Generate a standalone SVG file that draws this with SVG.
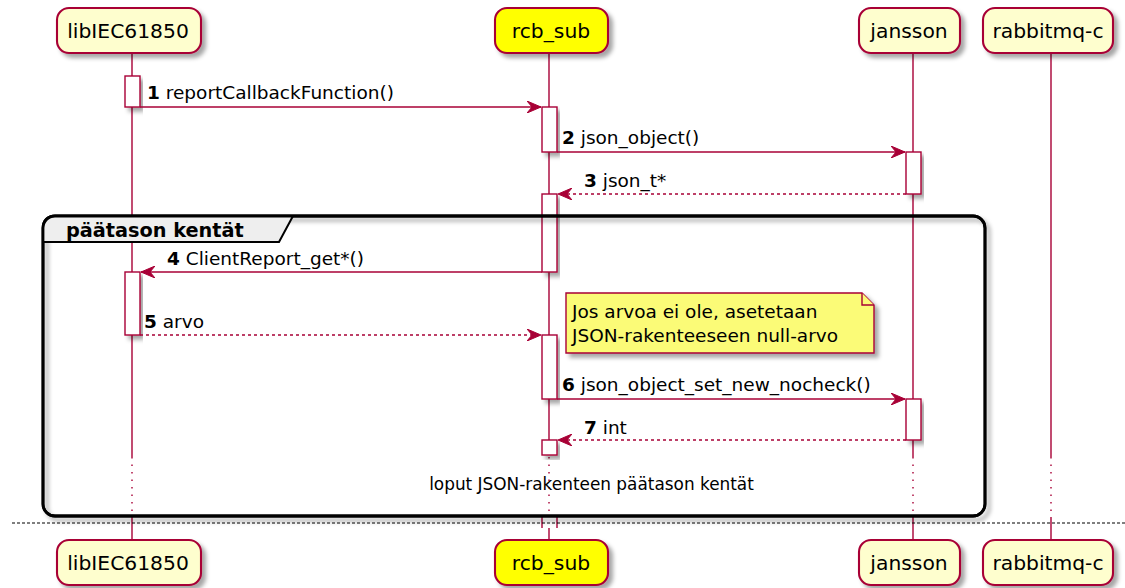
<svg xmlns="http://www.w3.org/2000/svg" width="1125" height="588" viewBox="0 0 1125 588">
<style>
text{font-family:"DejaVu Sans","Liberation Sans",sans-serif;fill:#000}
.pbox{fill:#FEFECE;stroke:#A80036;stroke-width:2.1}
.pname{font-size:20.3px}
.life{stroke:#A80036;stroke-width:1.4;fill:none}
.lifed{stroke:#A80036;stroke-width:1.4;stroke-dasharray:1.5 6;fill:none}
.act{fill:#FFFFFF;stroke:#A80036;stroke-width:1.4}
.msg{stroke:#A80036;stroke-width:1.4;fill:none}
.ret{stroke:#A80036;stroke-width:1.4;stroke-dasharray:3 3;fill:none}
.lbl{font-size:18.5px}
.num{font-weight:bold}
</style>
<defs>
<filter id="sh" x="-10%" y="-10%" width="130%" height="140%">
<feDropShadow dx="4" dy="4" stdDeviation="2.2" flood-color="#000" flood-opacity="0.35"/>
</filter>
<marker id="ah" markerUnits="userSpaceOnUse" markerWidth="15" markerHeight="12" refX="14" refY="6" orient="auto" viewBox="0 0 15 12">
<path d="M0,0 L14,6 L0,12 L5,6 Z" fill="#A80036" stroke="#A80036" stroke-width="1"/>
</marker>
</defs>
<rect width="1125" height="588" fill="#FFFFFF"/>

<g id="lifelines">
<path class="life" d="M132,53 V457 M132,517 V540"/>
<path class="lifed" d="M132,457 V517"/>
<path class="life" d="M549,53 V455 M549,517 V540"/>
<path class="lifed" d="M549,457 V517"/>
<path class="life" d="M913,53 V457 M913,517 V540"/>
<path class="lifed" d="M913,457 V517"/>
<path class="life" d="M1051,53 V457 M1051,517 V540"/>
<path class="lifed" d="M1051,457 V517"/>
</g>

<g id="activations">
<rect class="act" x="125" y="76" width="15" height="31" filter="url(#sh)"/>
<rect class="act" x="542" y="107" width="15" height="45" filter="url(#sh)"/>
<rect class="act" x="906" y="152" width="15" height="42" filter="url(#sh)"/>
<rect class="act" x="542" y="194" width="15" height="78" filter="url(#sh)"/>
<rect class="act" x="125" y="272" width="15" height="63" filter="url(#sh)"/>
<rect class="act" x="542" y="335" width="15" height="64" filter="url(#sh)"/>
<rect class="act" x="906" y="399" width="15" height="41" filter="url(#sh)"/>
<rect class="act" x="542" y="440" width="15" height="15" filter="url(#sh)"/>
<path class="act" d="M542,516 V528 M557,516 V528"/>
<rect x="543" y="517" width="13" height="11" fill="#FFFFFF"/>
</g>

<g id="group-paatason">
<rect x="43" y="216" width="942" height="300" rx="12" ry="12" fill="none" stroke="#000" stroke-width="2.8" filter="url(#sh)"/>
<path d="M43,242 V228 Q43,216 55,216 H293 L279,242 Z" fill="#EEEEEE" stroke="#000" stroke-width="2"/>
<rect x="43" y="216" width="942" height="300" rx="12" ry="12" fill="none" stroke="#000" stroke-width="2.8"/>
<text x="66" y="237" font-size="19.3px" font-weight="bold">päätason kentät</text>
</g>

<g id="connectors">
<line class="msg" x1="140" y1="107" x2="541" y2="107" marker-end="url(#ah)"/>
<line class="msg" x1="557" y1="152" x2="905" y2="152" marker-end="url(#ah)"/>
<line class="ret" x1="906" y1="194" x2="558" y2="194" marker-end="url(#ah)"/>
<line class="msg" x1="542" y1="272" x2="141" y2="272" marker-end="url(#ah)"/>
<line class="ret" x1="140" y1="335" x2="541" y2="335" marker-end="url(#ah)"/>
<line class="msg" x1="557" y1="399" x2="905" y2="399" marker-end="url(#ah)"/>
<line class="ret" x1="906" y1="440" x2="558" y2="440" marker-end="url(#ah)"/>
</g>

<g id="labels">
<text class="lbl" x="147" y="99"><tspan class="num">1</tspan> reportCallbackFunction()</text>
<text class="lbl" x="562" y="144"><tspan class="num">2</tspan> json_object()</text>
<text class="lbl" x="584" y="187"><tspan class="num">3</tspan> json_t*</text>
<text class="lbl" x="167" y="265"><tspan class="num">4</tspan> ClientReport_get*()</text>
<text class="lbl" x="144" y="328"><tspan class="num">5</tspan> arvo</text>
<text class="lbl" x="562" y="391"><tspan class="num">6</tspan> json_object_set_new_nocheck()</text>
<text class="lbl" x="584" y="434"><tspan class="num">7</tspan> int</text>
</g>

<g id="note">
<path d="M566,293 H862 L874,305 V353 H566 Z" fill="#FBFB77" stroke="#A80036" stroke-width="1.4" filter="url(#sh)"/>
<path d="M862,293 V305 H874" fill="#FBFB77" stroke="#A80036" stroke-width="1.4"/>
<text class="lbl" x="572" y="318">Jos arvoa ei ole, asetetaan</text>
<text class="lbl" x="572" y="342">JSON-rakenteeseen null-arvo</text>
</g>

<g id="delay">
<text x="591.5" y="490" font-size="16.9px" text-anchor="middle">loput JSON-rakenteen päätason kentät</text>
</g>

<g id="divider">
<line x1="12" y1="523" x2="1125" y2="523" stroke="#000" stroke-width="1.2" stroke-dasharray="3 2"/>
</g>

<g id="p-libIEC61850">
<rect class="pbox" x="57" y="8" width="144" height="45" rx="12" filter="url(#sh)"/>
<text class="pname" x="128" y="38" text-anchor="middle">libIEC61850</text>
<rect class="pbox" x="57" y="540" width="144" height="45" rx="12" filter="url(#sh)"/>
<text class="pname" x="128" y="570" text-anchor="middle">libIEC61850</text>
</g>
<g id="p-rcb_sub">
<rect class="pbox" x="495" y="8" width="113" height="45" rx="12" style="fill:#FFFF00" filter="url(#sh)"/>
<text class="pname" x="551" y="38" text-anchor="middle">rcb_sub</text>
<rect class="pbox" x="495" y="540" width="113" height="45" rx="12" style="fill:#FFFF00" filter="url(#sh)"/>
<text class="pname" x="551" y="570" text-anchor="middle">rcb_sub</text>
</g>
<g id="p-jansson">
<rect class="pbox" x="859" y="8" width="101" height="45" rx="12" filter="url(#sh)"/>
<text class="pname" x="909" y="38" text-anchor="middle">jansson</text>
<rect class="pbox" x="859" y="540" width="101" height="45" rx="12" filter="url(#sh)"/>
<text class="pname" x="909" y="570" text-anchor="middle">jansson</text>
</g>
<g id="p-rabbitmq-c">
<rect class="pbox" x="983" y="8" width="130" height="45" rx="12" filter="url(#sh)"/>
<text class="pname" x="1048" y="38" text-anchor="middle">rabbitmq-c</text>
<rect class="pbox" x="983" y="540" width="130" height="45" rx="12" filter="url(#sh)"/>
<text class="pname" x="1048" y="570" text-anchor="middle">rabbitmq-c</text>
</g>
</svg>
